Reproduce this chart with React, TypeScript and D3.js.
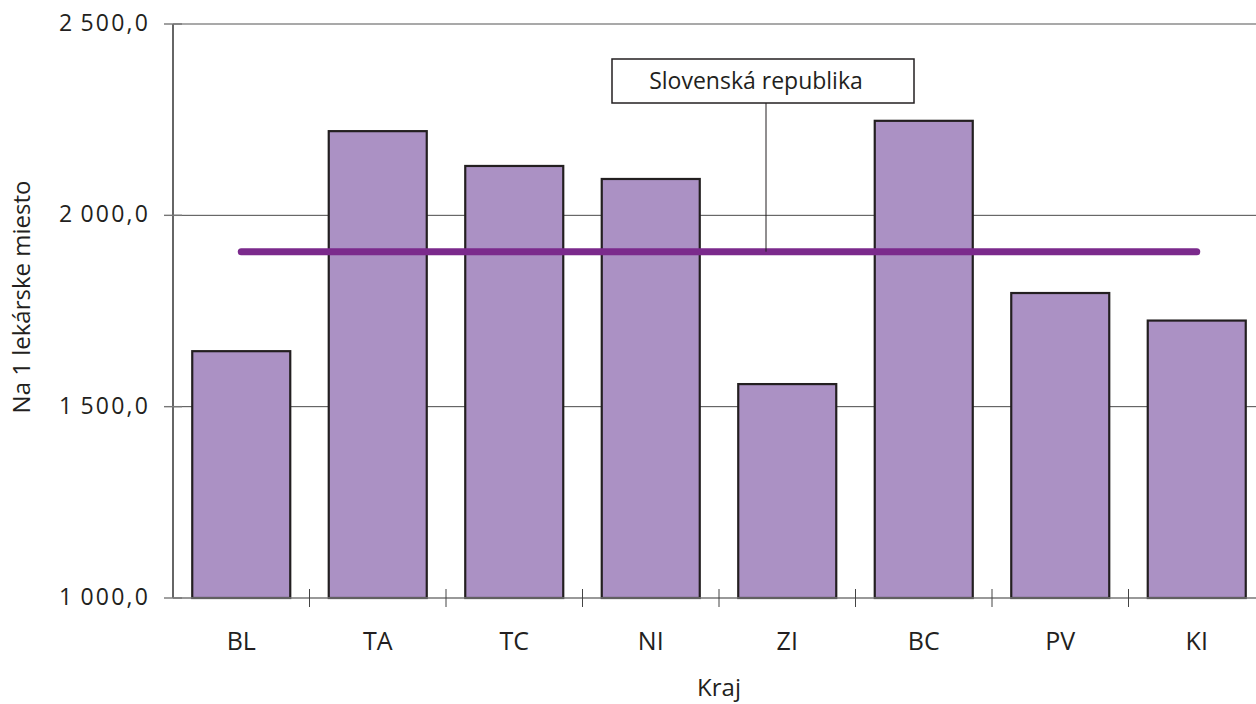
import { useEffect, useRef } from "react";
import * as d3 from "d3";

const regions = ["BL", "TA", "TC", "NI", "ZI", "BC", "PV", "KI"];
const perDoctor = [1645, 2220, 2129, 2095, 1559, 2247, 1797, 1725];
const slovakia = 1905;
const yTicks = [1000, 1500, 2000, 2500];
const legendLabel = "Slovenská republika";

const W = 1256;
const H = 704;

export default function App() {
  const svgRef = useRef<SVGSVGElement | null>(null);

  useEffect(() => {
    document.body.style.margin = "0";
    const svgEl = svgRef.current;
    if (!svgEl) return;
    const svg = d3.select(svgEl);
    svg.selectAll("*").remove();

    const font = "'Open Sans', 'Noto Sans', sans-serif";
    const left = 173, top = 24, bottom = 598, right = 1265;

    const x = d3.scaleBand<string>()
      .domain(regions)
      .range([left, right])
      .paddingInner(0.282)
      .paddingOuter(0.141);
    const step = x.step();

    const y = d3.scaleLinear().domain([1000, 2500]).range([bottom, top]);

    // grid
    svg.append("g")
      .selectAll("line")
      .data(yTicks.filter((t) => t > 1000))
      .join("line")
      .attr("x1", left)
      .attr("x2", W)
      .attr("y1", (d) => y(d))
      .attr("y2", (d) => y(d))
      .attr("stroke", (d) => (d === 2500 ? "#8c8c8c" : "#4a4a4a"))
      .attr("stroke-width", (d) => (d === 2500 ? 1.6 : 1));

    // bars
    svg.append("g")
      .selectAll("rect")
      .data(regions)
      .join("rect")
      .attr("x", (d) => x(d)!)
      .attr("width", x.bandwidth())
      .attr("y", (_, i) => y(perDoctor[i]))
      .attr("height", (_, i) => bottom - y(perDoctor[i]))
      .attr("fill", "#ab91c4")
      .attr("stroke", "#231f20")
      .attr("stroke-width", 2.2);

    // axes
    svg.append("line")
      .attr("x1", left).attr("x2", left)
      .attr("y1", top).attr("y2", bottom)
      .attr("stroke", "#666").attr("stroke-width", 2);
    svg.append("line")
      .attr("x1", left).attr("x2", W)
      .attr("y1", bottom).attr("y2", bottom)
      .attr("stroke", "#777").attr("stroke-width", 1.6);

    const yt = svg.append("g");
    yt.selectAll("line")
      .data(yTicks)
      .join("line")
      .attr("x1", left - 9).attr("x2", left + 9)
      .attr("y1", (d) => y(d)).attr("y2", (d) => y(d))
      .attr("stroke", "#777").attr("stroke-width", 1.4);
    yt.selectAll("text")
      .data(yTicks)
      .join("text")
      .attr("x", 150)
      .attr("y", (d) => y(d))
      .attr("dy", "0.3em")
      .attr("text-anchor", "end")
      .attr("font-family", font)
      .attr("font-size", 23)
      .attr("letter-spacing", 2.2)
      .attr("fill", "#231f20")
      .text((d) => d3.format(",.1f")(d).replace(",", "\u2009").replace(".", ","));

    svg.append("g")
      .selectAll("line")
      .data(d3.range(1, regions.length))
      .join("line")
      .attr("x1", (i) => left + i * step)
      .attr("x2", (i) => left + i * step)
      .attr("y1", bottom - 9)
      .attr("y2", bottom + 9)
      .attr("stroke", "#444")
      .attr("stroke-width", 1);

    svg.append("g")
      .selectAll("text")
      .data(regions)
      .join("text")
      .attr("x", (d) => x(d)! + x.bandwidth() / 2)
      .attr("y", 650)
      .attr("text-anchor", "middle")
      .attr("font-family", font)
      .attr("font-size", 25)
      .attr("fill", "#231f20")
      .text((d) => d);

    svg.append("text")
      .attr("x", (left + right) / 2)
      .attr("y", 696)
      .attr("text-anchor", "middle")
      .attr("font-family", font)
      .attr("font-size", 24)
      .attr("fill", "#231f20")
      .text("Kraj");

    svg.append("text")
      .attr("transform", "translate(30,297) rotate(-90)")
      .attr("text-anchor", "middle")
      .attr("font-family", font)
      .attr("font-size", 24)
      .attr("fill", "#231f20")
      .text("Na 1 lekárske miesto");

    // national average line
    const x0 = x(regions[0])! + x.bandwidth() / 2;
    const x1 = x(regions[regions.length - 1])! + x.bandwidth() / 2;
    svg.append("line")
      .attr("x1", x0).attr("x2", x1)
      .attr("y1", y(slovakia)).attr("y2", y(slovakia))
      .attr("stroke", "#7b2a8c")
      .attr("stroke-width", 7)
      .attr("stroke-linecap", "round");

    // legend callout
    const lx = 766;
    svg.append("line")
      .attr("x1", lx).attr("x2", lx)
      .attr("y1", 103).attr("y2", y(slovakia))
      .attr("stroke", "#231f20").attr("stroke-width", 1);
    svg.append("rect")
      .attr("x", 612).attr("y", 59)
      .attr("width", 302).attr("height", 44)
      .attr("fill", "#fff")
      .attr("stroke", "#231f20").attr("stroke-width", 1.5);
    svg.append("text")
      .attr("x", 756).attr("y", 89)
      .attr("text-anchor", "middle")
      .attr("font-family", font)
      .attr("font-size", 23)
      .attr("fill", "#231f20")
      .text(legendLabel);
  }, []);

  return (
    <svg
      ref={svgRef}
      width={W}
      height={H}
      style={{ position: "absolute", left: 0, top: 0, background: "#fff" }}
    />
  );
}
